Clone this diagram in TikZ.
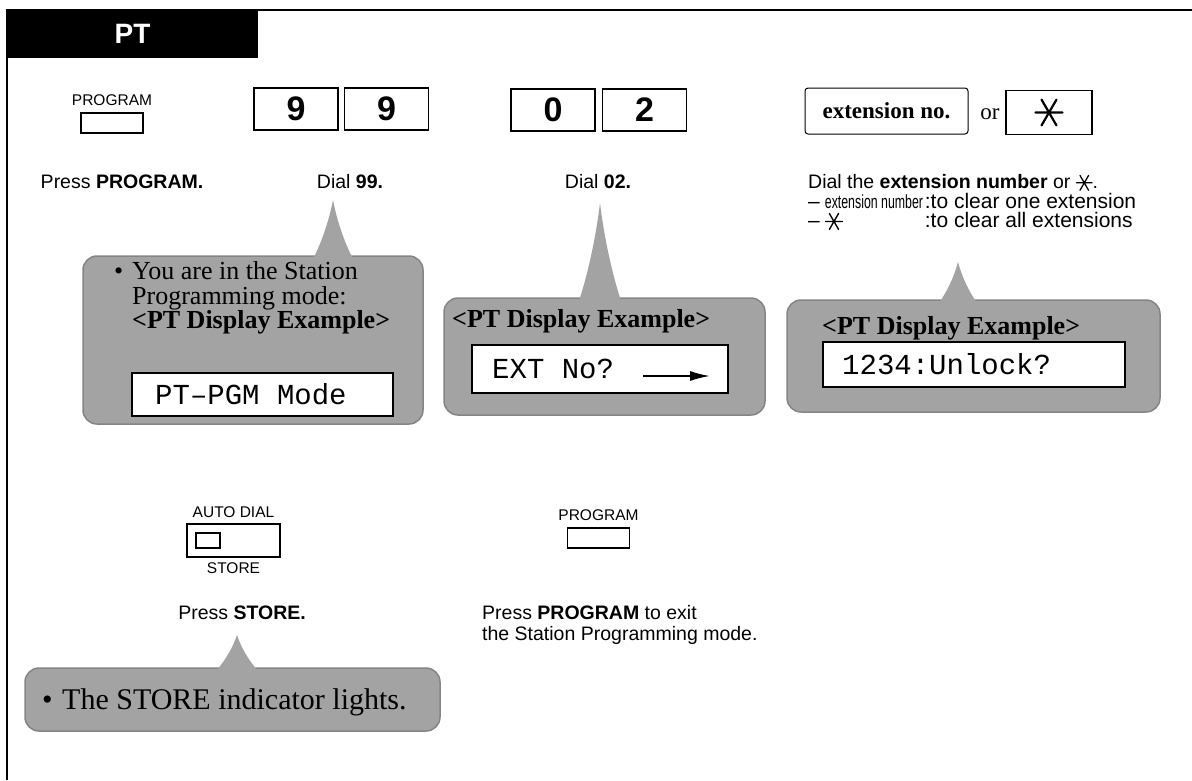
\documentclass[tikz,border=0pt]{standalone}
\usepackage{fontspec}
\setmainfont{Liberation Serif}
\setsansfont{Liberation Sans}
\setmonofont{Liberation Mono}
\usepackage{graphicx}
\usetikzlibrary{arrows.meta,positioning}
\definecolor{bubblegray}{gray}{0.64}
\definecolor{bubbleedge}{gray}{0.52}
\newcommand{\xstar}{\tikz[baseline=-0.5ex,line width=0.065em,line cap=round]{%
  \draw (-0.4em,0)--(0.4em,0) (-0.22em,-0.38em)--(0.22em,0.38em) (-0.22em,0.38em)--(0.22em,-0.38em);}}
% apex x, apex y, base y, half width of base
\newcommand{\spike}[4]{%
  \fill[bubblegray] ({#1-#4},{#3}) .. controls ({#1-0.55*#4},{#3-0.3*(#3-#2)}) and ({#1-0.2*#4},{#3-0.65*(#3-#2)}) .. (#1,#2)
    .. controls ({#1+0.2*#4},{#3-0.65*(#3-#2)}) and ({#1+0.55*#4},{#3-0.3*(#3-#2)}) .. ({#1+#4},{#3}) -- cycle;}

\begin{document}
\begin{tikzpicture}[x=1pt,y=-1pt,
  key/.style={draw,line width=1.6pt,minimum width=84pt,minimum height=42pt,inner sep=0pt,
    font=\sffamily\bfseries\fontsize{34}{34}\selectfont},
  btn/.style={draw,line width=1.5pt,minimum width=62pt,minimum height=20pt,inner sep=0pt},
  keytag/.style={inner sep=0pt,font=\sffamily\fontsize{15.5}{15.5}\selectfont},
  captext/.style={inner sep=0pt,font=\sffamily\fontsize{19.5}{21}\selectfont},
  bubble/.style={fill=bubblegray,draw=bubbleedge,line width=1.5pt,rounded corners=14pt,inner sep=0pt},
  note/.style={inner sep=0pt,anchor=base west,font=\rmfamily\fontsize{26}{26}\selectfont},
  lcd/.style={draw,fill=white,line width=1.2pt,inner sep=0pt},
  lcdtext/.style={inner sep=0pt,anchor=west,font=\ttfamily\fontsize{29}{29}\selectfont}]

\useasboundingbox (0,0) rectangle (1192,780);

% frame and title tab
\draw[line width=2pt] (1192,10) -- (7,10) -- (7,780);
\node[fill=black,minimum width=251pt,minimum height=48pt,inner sep=0pt,text=white,
  font=\sffamily\bfseries\fontsize{28}{28}\selectfont] (tab) at (132.5,34) {PT};

% top row of keys
\node[btn] (pgm) at (112,123) {};
\node[keytag,above=6pt of pgm] (pgmtag) {PROGRAM};
\node[key] (k9a) at (296,109) {9};
\node[key] (k9b) at (386.5,109) {9};
\node[key] (k0) at (553,110) {0};
\node[key] (k2) at (644.5,110) {2};
\node[draw,line width=1pt,rounded corners=3pt,minimum width=163pt,minimum height=46pt,
  font=\rmfamily\bfseries\fontsize{23}{23}\selectfont] (ext) at (886.5,111) {extension no.};
\node[inner sep=0pt,font=\rmfamily\fontsize{23}{23}\selectfont] (or) at (990,114) {or};
\node[key,minimum width=86pt,minimum height=44pt] (kst) at (1049,112.5) {\xstar};

% captions
\node[captext,anchor=base] (c1) at (122,188) {Press \textbf{PROGRAM.}};
\node[captext,anchor=base] (c2) at (350,188) {Dial \textbf{99.}};
\node[captext,anchor=base] (c3) at (598,188) {Dial \textbf{02.}};
\node[captext,anchor=base west] (c4) at (808,188) {Dial the \textbf{extension number} or \xstar.};
\node[captext,anchor=base west,font=\sffamily\fontsize{21}{21}\selectfont] (c5) at (808,208)
  {–\hspace{5pt}\makebox[100pt][l]{\fontsize{19}{19}\selectfont\scalebox{0.65}[1]{extension number}}:to clear one extension};
\node[captext,anchor=base west,font=\sffamily\fontsize{21}{21}\selectfont] (c6) at (808,227)
  {–\hspace{5pt}\makebox[100pt][l]{\xstar}:to clear all extensions};

% callout under 99
\node[bubble,minimum width=340pt,minimum height=168pt] (b1) at (253,340) {};
\spike{333}{200}{259}{20}
\node[note] (n1dot) at (114,279) {•};
\node[note] (n1a) at (132,279) {You are in the Station};
\node[note] (n1b) at (132,304) {Programming mode:};
\node[note] (n1c) at (132,328) {\textbf{<PT Display Example>}};
\node[lcd,minimum width=261pt,minimum height=43pt] (d1) at (262.5,394.5) {};
\node[lcdtext] (d1t) at (155,394.5) {PT–PGM Mode};

% callout under 02
\node[bubble,minimum width=321pt,minimum height=117pt] (b2) at (604.5,356.5) {};
\spike{600}{203}{301}{21}
\node[note] (n2) at (452,327) {\textbf{<PT Display Example>}};
\node[lcd,minimum width=256pt,minimum height=48pt] (d2) at (600,369) {};
\node[lcdtext] (d2t) at (492,369) {EXT No?};
\coordinate (a2s) at (643,376);
\coordinate (a2e) at (710,376);
\draw[line width=1.8pt,-{Latex[length=20pt,width=10pt]}] (a2s) -- (a2e);

% callout under extension number
\node[bubble,minimum width=373pt,minimum height=112pt] (b3) at (973.5,356) {};
\spike{958}{262}{303}{19}
\node[note] (n3) at (822,334) {\textbf{<PT Display Example>}};
\node[lcd,minimum width=302pt,minimum height=45pt] (d3) at (974,364.5) {};
\node[lcdtext] (d3t) at (842,364.5) {1234:Unlock?};

% store key
\node[draw,line width=1.6pt,minimum width=93pt,minimum height=33pt,inner sep=0pt] (ad) at (233.5,540.5) {};
\node[draw,line width=1.4pt,minimum width=24pt,minimum height=15pt,inner sep=0pt] (adlamp) at (208,540.5) {};
\node[keytag,above=5pt of ad] (adtag) {AUTO DIAL};
\node[keytag,below=5pt of ad] (sttag) {STORE};
\node[captext,anchor=base] (c7) at (242,619) {Press \textbf{STORE.}};

% callout under store
\node[bubble,minimum width=415pt,minimum height=63pt] (b4) at (232.5,699.5) {};
\spike{237}{635}{671}{21}
\node[note,font=\rmfamily\fontsize{30}{30}\selectfont] (n4dot) at (42,709) {•};
\node[note,font=\rmfamily\fontsize{30}{30}\selectfont] (n4) at (62,709) {The STORE indicator lights.};

% program key to leave
\node[btn] (pgm2) at (598.5,538) {};
\node[keytag,above=6pt of pgm2] (pgm2tag) {PROGRAM};
\node[captext,anchor=base west] (c8) at (482,619) {Press \textbf{PROGRAM} to exit};
\node[captext,anchor=base west] (c9) at (482,640) {the Station Programming mode.};
\end{tikzpicture}
\end{document}
